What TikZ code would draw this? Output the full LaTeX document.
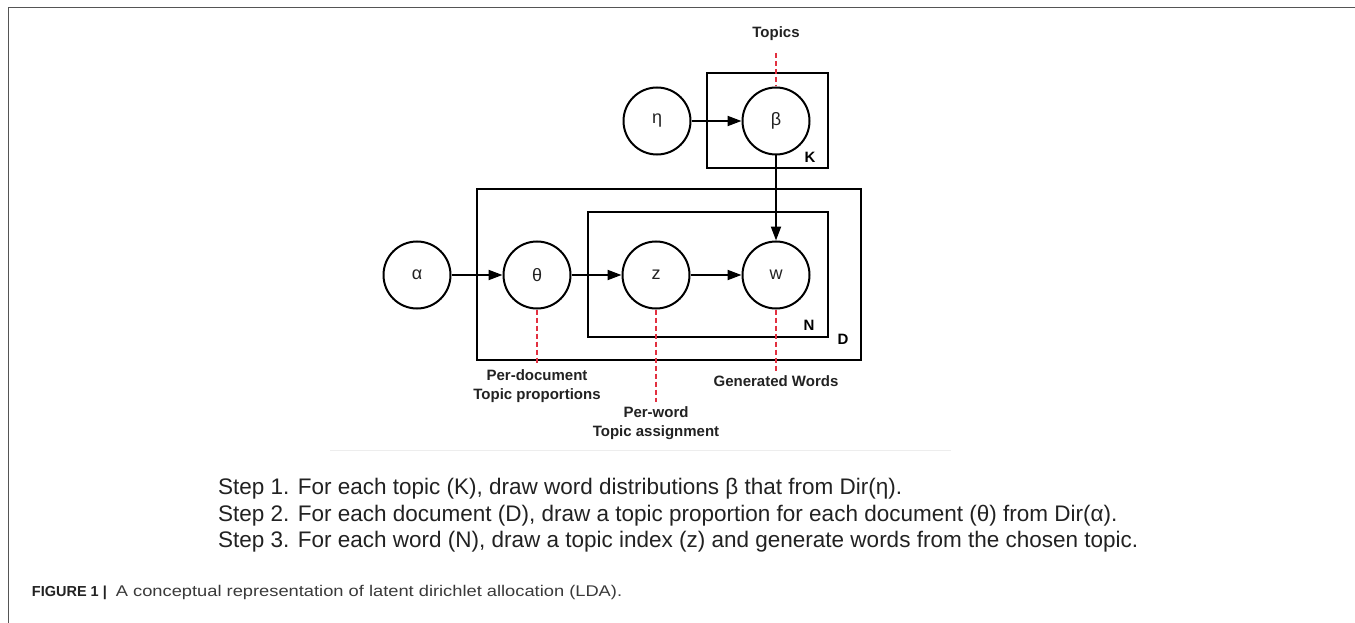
\documentclass[tikz,border=0pt]{standalone}
\usepackage{fontspec}
\usepackage{graphicx}
\setmainfont{Liberation Sans}
\usetikzlibrary{arrows.meta}
\definecolor{framegray}{HTML}{555555}
\definecolor{dashred}{HTML}{E23040}
\definecolor{txtdark}{HTML}{222222}
\definecolor{captxt}{HTML}{3A3A3A}
\begin{document}
\begin{tikzpicture}[x=1pt,y=-1pt,
  var/.style={circle,draw=black,line width=2pt,minimum size=67pt,inner sep=0pt,font=\fontsize{18}{20}\selectfont,text=txtdark},
  plate/.style={draw=black,line width=2pt,inner sep=0pt},
  platelbl/.style={font=\bfseries\fontsize{15}{17}\selectfont,inner sep=0pt},
  edge/.style={line width=2pt,-{Triangle[length=14pt,width=10pt]}},
  guide/.style={draw=dashred,line width=1.6pt,dash pattern=on 5pt off 3pt},
  lbl/.style={font=\bfseries\fontsize{15}{19}\selectfont,align=center,inner sep=0pt,text=txtdark},
  steptxt/.style={font=\fontsize{22.5}{27}\selectfont,anchor=base west,inner sep=0pt,text=txtdark},
  capbold/.style={font=\bfseries\fontsize{14.5}{17}\selectfont,anchor=base west,inner sep=0pt,text=txtdark},
  captxtstyle/.style={font=\fontsize{15.5}{17}\selectfont,anchor=base west,inner sep=0pt,text=captxt}
]
\useasboundingbox (0,0) rectangle (1355,623);
\fill[white] (0,0) rectangle (1355,623);
% outer frame
\draw[framegray,line width=1.5pt] (8.5,623) -- (8.5,7.5) -- (1355,7.5);
% faint image edge
\draw[black!7,line width=1pt] (330,450) -- (951,450);

% plates
\node[plate,minimum width=121pt,minimum height=95pt] (Kplate) at (767.2,120.8) {};
\node[plate,minimum width=383.7pt,minimum height=170.7pt] (Dplate) at (669.15,274.65) {};
\node[plate,minimum width=240pt,minimum height=124.4pt] (Nplate) at (707.7,274.5) {};
\node[platelbl] (Klbl) at (810,157) {K};
\node[platelbl] (Nlbl) at (809,325) {N};
\node[platelbl] (Dlbl) at (843,339) {D};

% variables
\node[var] (eta) at (657,121) {η};
\node[var] (beta) at (776,121) {β};
\node[var] (alpha) at (417,275) {α};
\node[var] (theta) at (537,275) {θ};
\node[var] (z) at (656,275) {z};
\node[var] (w) at (776,275) {w};

% edges
\draw[edge] (eta) -- (beta);
\draw[edge] (beta) -- (w);
\draw[edge] (alpha) -- (theta);
\draw[edge] (theta) -- (z);
\draw[edge] (z) -- (w);

% labels and guides
\node[lbl] (topics) at (776,34) {Topics};
\coordinate (topicsEnd) at (776,53);
\draw[guide] (topicsEnd) -- (beta.north);

\node[lbl,anchor=north] (perdoc) at (537,369) {Per-document\\Topic proportions};
\coordinate (thetaEnd) at (537,365);
\draw[guide] (theta.south) -- (thetaEnd);

\node[lbl,anchor=north] (perword) at (656,406) {Per-word\\Topic assignment};
\coordinate (zEnd) at (656,401.7);
\draw[guide] (z.south) -- (zEnd);

\node[lbl,anchor=north] (genwords) at (776,375.5) {Generated Words};
\coordinate (wEnd) at (776,371.7);
\draw[guide] (w.south) -- (wEnd);

% steps
\node[steptxt] (step1) at (218,494.3) {Step 1. For each topic (K), draw word distributions β that from Dir(η).};
\node[steptxt] (step2) at (218,521) {Step 2. For each document (D), draw a topic proportion for each document (θ) from Dir(α).};
\node[steptxt] (step3) at (218,547.7) {Step 3. For each word (N), draw a topic index (z) and generate words from the chosen topic.};

% caption
\node[capbold] (capfig) at (31.7,596.7) {FIGURE 1 |};
\node[captxtstyle] (caption) at (115.7,596.7) {\scalebox{1.18}[1]{A conceptual representation of latent dirichlet allocation (LDA).}};
\end{tikzpicture}
\end{document}
